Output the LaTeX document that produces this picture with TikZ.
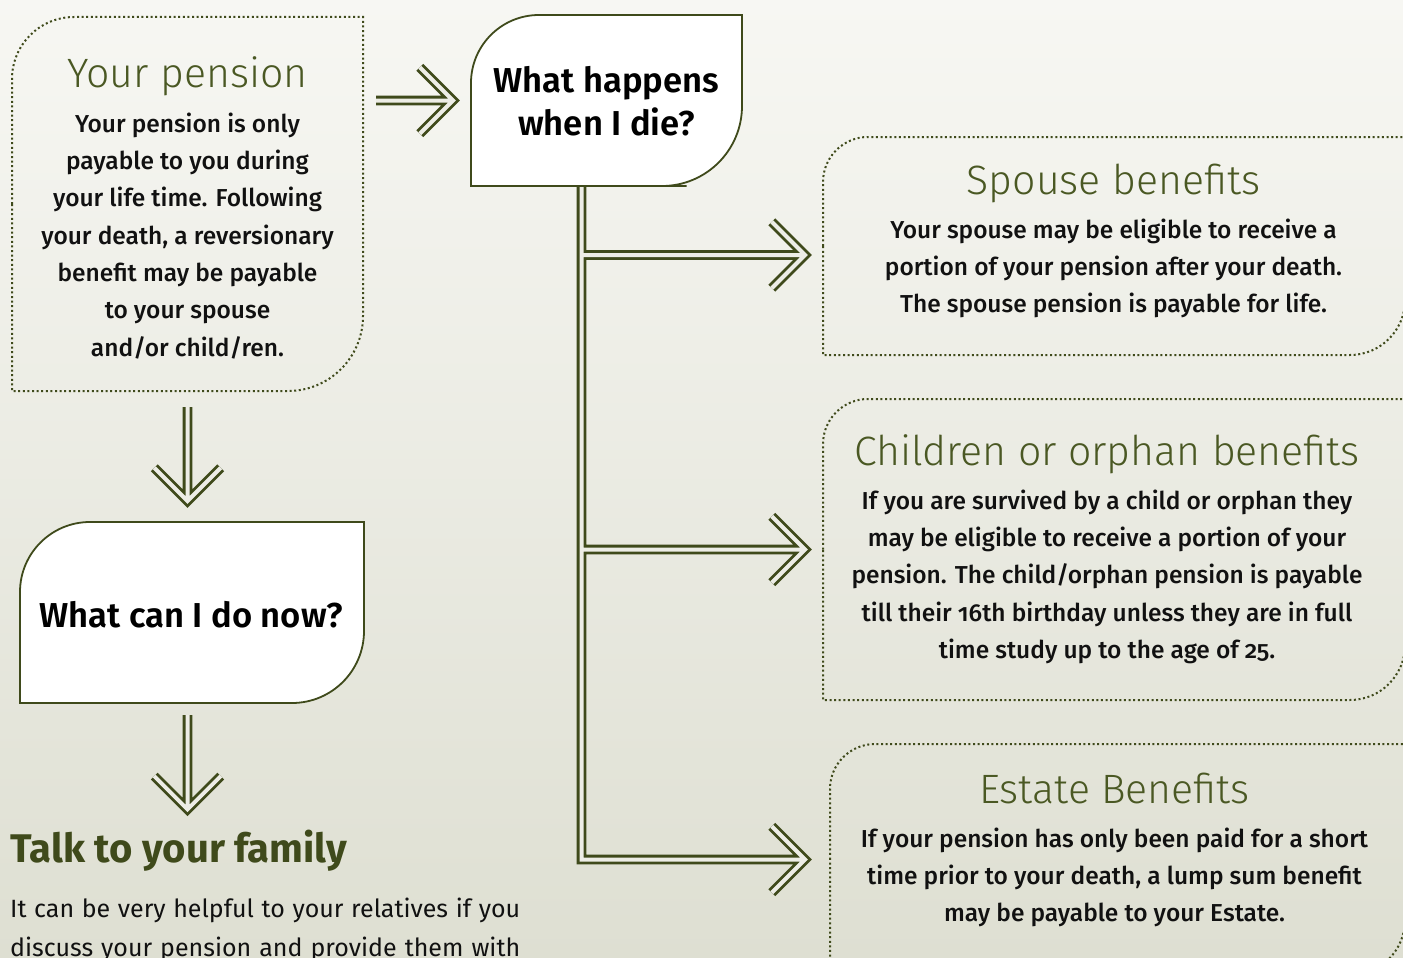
\documentclass[tikz,border=0pt]{standalone}
\usepackage{fontspec}
\setmainfont{Fira Sans}[Numbers=OldStyle]
\newfontfamily\firalight{Fira Sans Light}[Numbers=OldStyle]
\newfontfamily\firamed{Fira Sans Medium}[Numbers=OldStyle]
\newfontfamily\firasemi{Fira Sans SemiBold}
\newfontfamily\firabold{Fira Sans Bold}
\usetikzlibrary{positioning,calc,backgrounds}

\definecolor{moss}{HTML}{3F4A1B}
\definecolor{mosstitle}{HTML}{4A5823}
\definecolor{bgtop}{HTML}{F7F7F3}
\definecolor{bgbot}{HTML}{DEDFD2}
\definecolor{pipein}{HTML}{EDEDE6}
\definecolor{ink}{HTML}{111111}

\begin{document}
\begin{tikzpicture}[
    x=1pt, y=-1pt,
    frame/.style={inner sep=0pt, outer sep=0pt},
    dotline/.style={draw=moss, line width=2pt, dash pattern=on 2pt off 2.6pt},
    solidline/.style={draw=moss, fill=white, line width=1.8pt},
    ptitle/.style={font=\firalight\fontsize{41}{50}\selectfont, text=mosstitle, inner sep=0pt, anchor=base},
    ptext/.style={font=\firamed\fontsize{24.5}{37.3}\selectfont, text=ink, align=center, inner sep=0pt},
    ask/.style={font=\firasemi\fontsize{34.6}{43}\selectfont, text=black, align=center, inner sep=0pt},
    pipe/.style={draw=moss, line width=2.8pt, double=pipein, double distance=4pt, line join=miter},
    pipearrow/.style={to path={-- ($(\tikztotarget)!#1!(\tikztostart)$) coordinate (tipc)
        ($(tipc)!47pt!45:(\tikztostart)$) -- (tipc) -- ($(tipc)!47pt!-45:(\tikztostart)$)}}
]
    \useasboundingbox (0,0) rectangle (1403,958);

    % Frames (outlines drawn on the background layer)
    \node[frame, minimum width=351pt, minimum height=374pt] (pen) at (187.5,204) {};
    \node[frame, minimum width=271pt, minimum height=171pt] (wh) at (606.5,100.5) {};
    \node[frame, minimum width=344pt, minimum height=181pt] (cd) at (192,612.5) {};
    \node[frame, minimum width=582pt, minimum height=218pt] (sp) at (1114,246) {};
    \node[frame, minimum width=582pt, minimum height=301pt] (ch) at (1114,549.5) {};
    \node[frame, minimum width=575pt, minimum height=231pt] (es) at (1117.5,859.5) {};

    % Left column
    \node[ptitle] (pent) at (187.5,88) {Your pension};
    \node[ptext, below=18pt of pent.base] (penb) {\strut Your pension is only\\payable to you during\\your life time. Following\\your death, a reversionary\\benefit may be payable\\to your spouse\\and/or child/ren.};

    \node[ask, anchor=north] (wht) at (606.5,62) {\strut What happens\\when I die?};
    \node[ask, anchor=base] (cdt) at (191,627) {What can I do now?};

    \node[anchor=base west, inner sep=0pt, font=\firabold\fontsize{40}{48}\selectfont, text=moss] (talk) at (10,862) {Talk to your family};
    \node[anchor=north west, inner sep=0pt, text width=510pt, align=justify, font=\fontsize{25}{39}\selectfont, text=ink] (talkb) at (10,889.7) {\noindent\strut It can be very helpful to your relatives if you\linebreak discuss your pension and provide them with\linebreak};

    % Right column
    \node[ptitle] (spt) at (1113.5,194) {Spouse benefits};
    \node[ptext, below=18pt of spt.base] (spb) {\strut Your spouse may be eligible to receive a\\portion of your pension after your death.\\The spouse pension is payable for life.};

    \node[ptitle] (cht) at (1107,465) {Children or orphan benefits};
    \node[ptext, below=18pt of cht.base] (chb) {\strut If you are survived by a child or orphan they\\may be eligible to receive a portion of your\\pension. The child/orphan pension is payable\\till their 16th birthday unless they are in full\\time study up to the age of 25.};

    \node[ptitle] (est) at (1114.5,803) {Estate Benefits};
    \node[ptext, below=18pt of est.base] (esb) {\strut If your pension has only been paid for a short\\time prior to your death, a lump sum benefit\\may be payable to your Estate.};

    % Arrows
    \draw[pipe] ([xshift=13pt]pen.east |- wh.west) to[pipearrow=18pt] (wh.west);
    \draw[pipe] ([yshift=-16pt]pen.south) to[pipearrow=21pt] (pen.south |- cd.north);
    \draw[pipe] ([yshift=-12pt]pen.south |- cd.south) to[pipearrow=20pt] (pen.south |- talk.north);

    \coordinate (tr) at ([xshift=-25pt,yshift=-1pt]wh.south);
    \draw[pipe] (tr) -- (tr |- es.west) to[pipearrow=25pt] (es.west)
        ([yshift=-9pt]tr |- sp.west) to[pipearrow=18pt] ([yshift=-9pt]sp.west)
        (tr |- ch.west) to[pipearrow=18pt] (ch.west);

    \begin{scope}[on background layer]
        \shade[top color=bgtop, bottom color=bgbot] (0,0) rectangle (1403,958);
        \foreach \n/\ra/\rb/\sty in {pen/62pt/75pt/dotline, sp/45pt/55pt/dotline, ch/45pt/55pt/dotline, es/45pt/55pt/dotline, wh/68pt/80pt/solidline, cd/70pt/72pt/solidline}
            \draw[\sty] (\n.west) {[rounded corners=\ra] -- (\n.north west) -- (\n.north)} -- (\n.north east) -- (\n.east) {[rounded corners=\rb] -- (\n.south east) -- (\n.south)} -- (\n.south west) -- cycle;
    \end{scope}
\end{tikzpicture}
\end{document}
